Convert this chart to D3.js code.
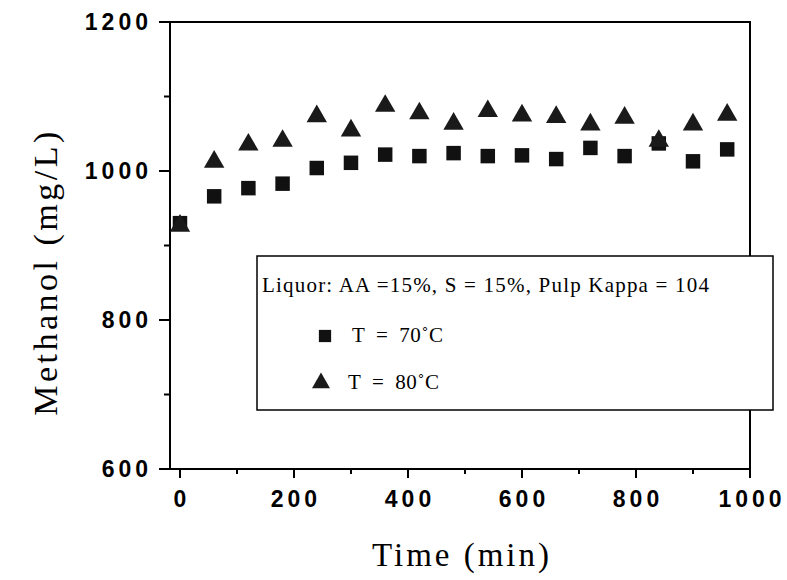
<!DOCTYPE html>
<html>
<head>
<meta charset="utf-8">
<script src="https://cdn.jsdelivr.net/npm/d3@7"></script>
<style>
  body { margin: 0; background: #fff; }
  svg { display: block; }
</style>
</head>
<body>
<div id="chart"></div>
<script>
// data
var times = [0, 60, 120, 180, 240, 300, 360, 420, 480, 540, 600, 660, 720, 780, 840, 900, 960];
var t70 = [930, 966, 977, 983, 1004, 1011, 1022, 1020, 1024, 1020, 1021, 1016, 1031, 1020, 1037, 1013, 1029];
var t80 = [929, 1015, 1038, 1043, 1076, 1057, 1090, 1080, 1066, 1083, 1077, 1075, 1065, 1074, 1043, 1065, 1078];
var xTicks = [0, 200, 400, 600, 800, 1000];
var yTicks = [600, 800, 1000, 1200];
var xMinor = [100, 300, 500, 700, 900];
var yMinor = [700, 900, 1100];
var legendTitle = "Liquor: AA =15%, S = 15%, Pulp Kappa = 104";
var legendLabels = ["T = 70\u02DAC", "T = 80\u02DAC"];

(function() {
  var width = 787, height = 580;
  var mLeft = 170, mRight = 750, mTop = 22, mBottom = 469;
  var tickFont = "Liberation Sans, Arial, sans-serif";
  var serif = "Liberation Serif, Times New Roman, serif";

  var svg = d3.select("#chart").append("svg")
      .attr("width", width)
      .attr("height", height);

  var x = d3.scaleLinear().domain([-17.5, 1000]).range([mLeft, mRight]);
  var y = d3.scaleLinear().domain([600, 1200]).range([mBottom, mTop]);

  // frame
  svg.append("rect")
      .attr("x", mLeft).attr("y", mTop)
      .attr("width", mRight - mLeft).attr("height", mBottom - mTop)
      .attr("fill", "none").attr("stroke", "#000").attr("stroke-width", 2);

  // ticks, major and minor
  function xTickLines(data, len) {
    svg.append("g").selectAll("line").data(data).enter().append("line")
        .attr("x1", function(d) { return x(d); }).attr("x2", function(d) { return x(d); })
        .attr("y1", mBottom).attr("y2", mBottom + len)
        .attr("stroke", "#000").attr("stroke-width", 2);
  }
  function yTickLines(data, len) {
    svg.append("g").selectAll("line").data(data).enter().append("line")
        .attr("x1", mLeft - len).attr("x2", mLeft)
        .attr("y1", function(d) { return y(d); }).attr("y2", function(d) { return y(d); })
        .attr("stroke", "#000").attr("stroke-width", 2);
  }
  xTickLines(xTicks, 9);
  xTickLines(xMinor, 5);
  yTickLines(yTicks, 11);
  yTickLines(yMinor, 6);

  // tick labels
  svg.append("g").selectAll("text").data(xTicks).enter().append("text")
      .attr("x", function(d) { return x(d) + 2; })
      .attr("y", mBottom + 38)
      .attr("text-anchor", "middle")
      .style("font-family", tickFont)
      .style("font-weight", "bold")
      .style("font-size", "23px")
      .style("letter-spacing", "4px")
      .text(function(d) { return d; });

  svg.append("g").selectAll("text").data(yTicks).enter().append("text")
      .attr("x", mLeft - 18)
      .attr("y", function(d) { return y(d) + 8; })
      .attr("text-anchor", "end")
      .style("font-family", tickFont)
      .style("font-weight", "bold")
      .style("font-size", "23px")
      .style("letter-spacing", "4px")
      .text(function(d) { return d; });

  // axis titles
  svg.append("text")
      .attr("x", 462).attr("y", 566)
      .attr("text-anchor", "middle")
      .style("font-family", serif)
      .style("font-size", "33px")
      .style("letter-spacing", "3px")
      .text("Time (min)");

  svg.append("text")
      .attr("transform", "translate(57,272) rotate(-90)")
      .attr("text-anchor", "middle")
      .style("font-family", serif)
      .style("font-size", "34px")
      .style("letter-spacing", "3.5px")
      .text("Methanol (mg/L)");

  // markers
  var sq = d3.symbol().type(d3.symbolSquare).size(210);
  var tri = d3.symbol().type(d3.symbolTriangle).size(180);

  var pts70 = times.map(function(t, i) { return [t, t70[i]]; });
  var pts80 = times.map(function(t, i) { return [t, t80[i]]; });

  svg.append("g").selectAll("path").data(pts70).enter().append("path")
      .attr("d", sq)
      .attr("transform", function(d) { return "translate(" + x(d[0]) + "," + y(d[1]) + ")"; })
      .attr("fill", "#111");

  svg.append("g").selectAll("path").data(pts80).enter().append("path")
      .attr("d", tri)
      .attr("transform", function(d) { return "translate(" + x(d[0]) + "," + (y(d[1]) + 2) + ")"; })
      .attr("fill", "#1a1a1a");

  // legend box
  var lg = svg.append("g");
  lg.append("rect")
      .attr("x", 257).attr("y", 256)
      .attr("width", 516).attr("height", 154)
      .attr("fill", "#fff").attr("stroke", "#000").attr("stroke-width", 1.5);
  lg.append("text")
      .attr("x", 262).attr("y", 292)
      .style("font-family", serif)
      .style("font-size", "21px")
      .style("letter-spacing", "1.2px")
      .text(legendTitle);
  lg.append("path")
      .attr("d", d3.symbol().type(d3.symbolSquare).size(150))
      .attr("transform", "translate(325,336)")
      .attr("fill", "#111");
  lg.append("path")
      .attr("d", d3.symbol().type(d3.symbolTriangle).size(140))
      .attr("transform", "translate(321,383)")
      .attr("fill", "#1a1a1a");
  lg.selectAll("text.lab").data(legendLabels).enter().append("text")
      .attr("class", "lab")
      .attr("x", function(d, i) { return i === 0 ? 352 : 348; })
      .attr("y", function(d, i) { return i === 0 ? 342 : 389; })
      .style("font-family", serif)
      .style("font-size", "21px")
      .style("letter-spacing", "0.6px")
      .style("word-spacing", "5px")
      .text(function(d) { return d; });
})();
</script>
</body>
</html>
